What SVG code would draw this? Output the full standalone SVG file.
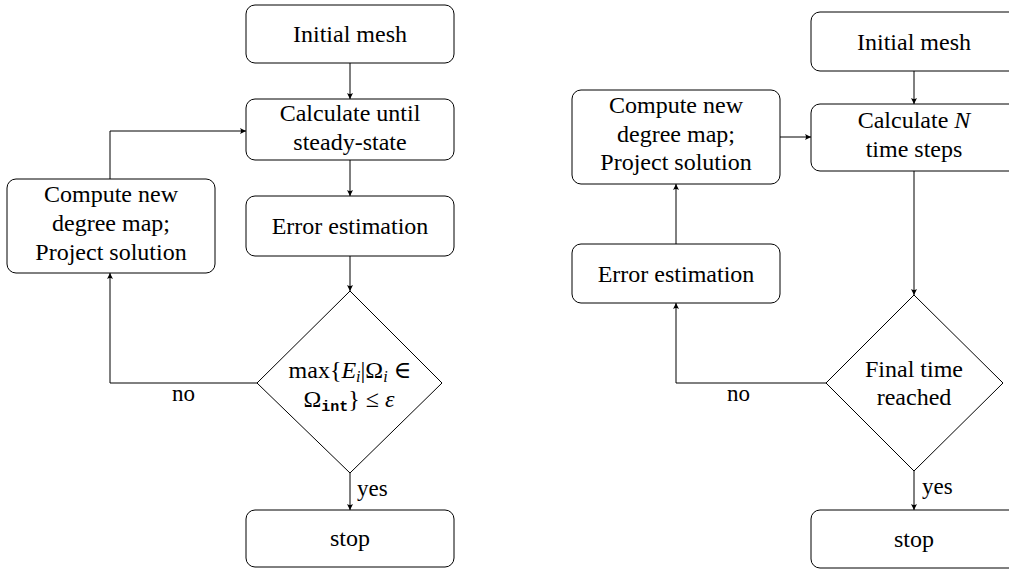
<svg xmlns="http://www.w3.org/2000/svg" width="1009" height="570" viewBox="0 0 1009 570" font-family="Liberation Serif, DejaVu Serif, serif">
<style>
.box{fill:#fff;stroke:#000;stroke-width:1}
.dia{fill:#fff;stroke:#000;stroke-width:1}
.t{font-family:'Liberation Serif','DejaVu Serif',serif;font-size:24px;fill:#000;text-anchor:middle}
.lbl{font-family:'Liberation Serif','DejaVu Serif',serif;font-size:23px;fill:#000}
.it{font-style:italic}
.sub{font-size:16px}
.mono{font-family:'Liberation Mono','DejaVu Sans Mono',monospace;font-size:15px;font-weight:bold}
.c{fill:none;stroke:#000;stroke-width:1}
</style>
<defs>
<marker id="ah" viewBox="-7 -4 8 8" refX="0" refY="0" markerWidth="8" markerHeight="8" markerUnits="userSpaceOnUse" orient="auto">
<path d="M0,0 L-6,-3 Q-4,0 -6,3 Z" fill="#000"/>
</marker>
</defs>
<g id="connectors">
<path class="c" d="M350,63 V99" marker-end="url(#ah)"/>
<path class="c" d="M350,160 V196" marker-end="url(#ah)"/>
<path class="c" d="M350,256 V291" marker-end="url(#ah)"/>
<path class="c" d="M350,473 V510" marker-end="url(#ah)"/>
<path class="c" d="M257,383 H110 V273" marker-end="url(#ah)"/>
<path class="c" d="M110,179 V131 H246" marker-end="url(#ah)"/>
<path class="c" d="M914,71 V104" marker-end="url(#ah)"/>
<path class="c" d="M914,171 V295" marker-end="url(#ah)"/>
<path class="c" d="M914,471 V510" marker-end="url(#ah)"/>
<path class="c" d="M826,383 H676 V303" marker-end="url(#ah)"/>
<path class="c" d="M676,244 V184" marker-end="url(#ah)"/>
<path class="c" d="M780,137 H811" marker-end="url(#ah)"/>
<text class="lbl" x="172" y="401">no</text>
<text class="lbl" x="357" y="496">yes</text>
<text class="lbl" x="727" y="401">no</text>
<text class="lbl" x="922" y="494">yes</text>
</g>
<g id="l-init"><rect class="box" x="246" y="5" width="208" height="58" rx="9"/><text class="t" x="350" y="42">Initial mesh</text></g>
<g id="l-calc"><rect class="box" x="246" y="99" width="208" height="61" rx="9"/><text class="t" x="350" y="121">Calculate until</text><text class="t" x="350" y="150">steady-state</text></g>
<g id="l-err"><rect class="box" x="246" y="196" width="208" height="60" rx="9"/><text class="t" x="350" y="234">Error estimation</text></g>
<g id="l-dec"><path class="dia" d="M350,291 L442,383 L350,473 L257,383 Z"/>
<text class="t" x="350" y="378">max{<tspan class="it">E</tspan><tspan class="it sub" dy="4">i</tspan><tspan dy="-4">|Ω</tspan><tspan class="it sub" dy="4">i</tspan><tspan dy="-4"> ∈</tspan></text>
<text class="t" x="349" y="407">Ω<tspan class="mono" dy="4">int</tspan><tspan dy="-4">} ≤ </tspan><tspan class="it">ε</tspan></text></g>
<g id="l-stop"><rect class="box" x="246" y="510" width="208" height="57" rx="9"/><text class="t" x="350" y="546">stop</text></g>
<g id="l-comp"><rect class="box" x="7" y="179" width="208" height="94" rx="9"/><text class="t" x="111" y="202">Compute new</text><text class="t" x="111" y="231">degree map;</text><text class="t" x="111" y="260">Project solution</text></g>
<g id="r-init"><rect class="box" x="811" y="12" width="208" height="59" rx="9"/><text class="t" x="914" y="50">Initial mesh</text></g>
<g id="r-calc"><rect class="box" x="811" y="104" width="208" height="67" rx="9"/><text class="t" x="914" y="128">Calculate <tspan class="it">N</tspan></text><text class="t" x="914" y="157">time steps</text></g>
<g id="r-dec"><path class="dia" d="M914,295 L1003,383 L914,471 L826,383 Z"/><text class="t" x="914" y="377">Final time</text><text class="t" x="914" y="405">reached</text></g>
<g id="r-stop"><rect class="box" x="811" y="510" width="208" height="58" rx="9"/><text class="t" x="914" y="547">stop</text></g>
<g id="r-comp"><rect class="box" x="572" y="90" width="208" height="94" rx="9"/><text class="t" x="676" y="113">Compute new</text><text class="t" x="676" y="142">degree map;</text><text class="t" x="676" y="170">Project solution</text></g>
<g id="r-err"><rect class="box" x="572" y="244" width="208" height="59" rx="9"/><text class="t" x="676" y="282">Error estimation</text></g>
</svg>
